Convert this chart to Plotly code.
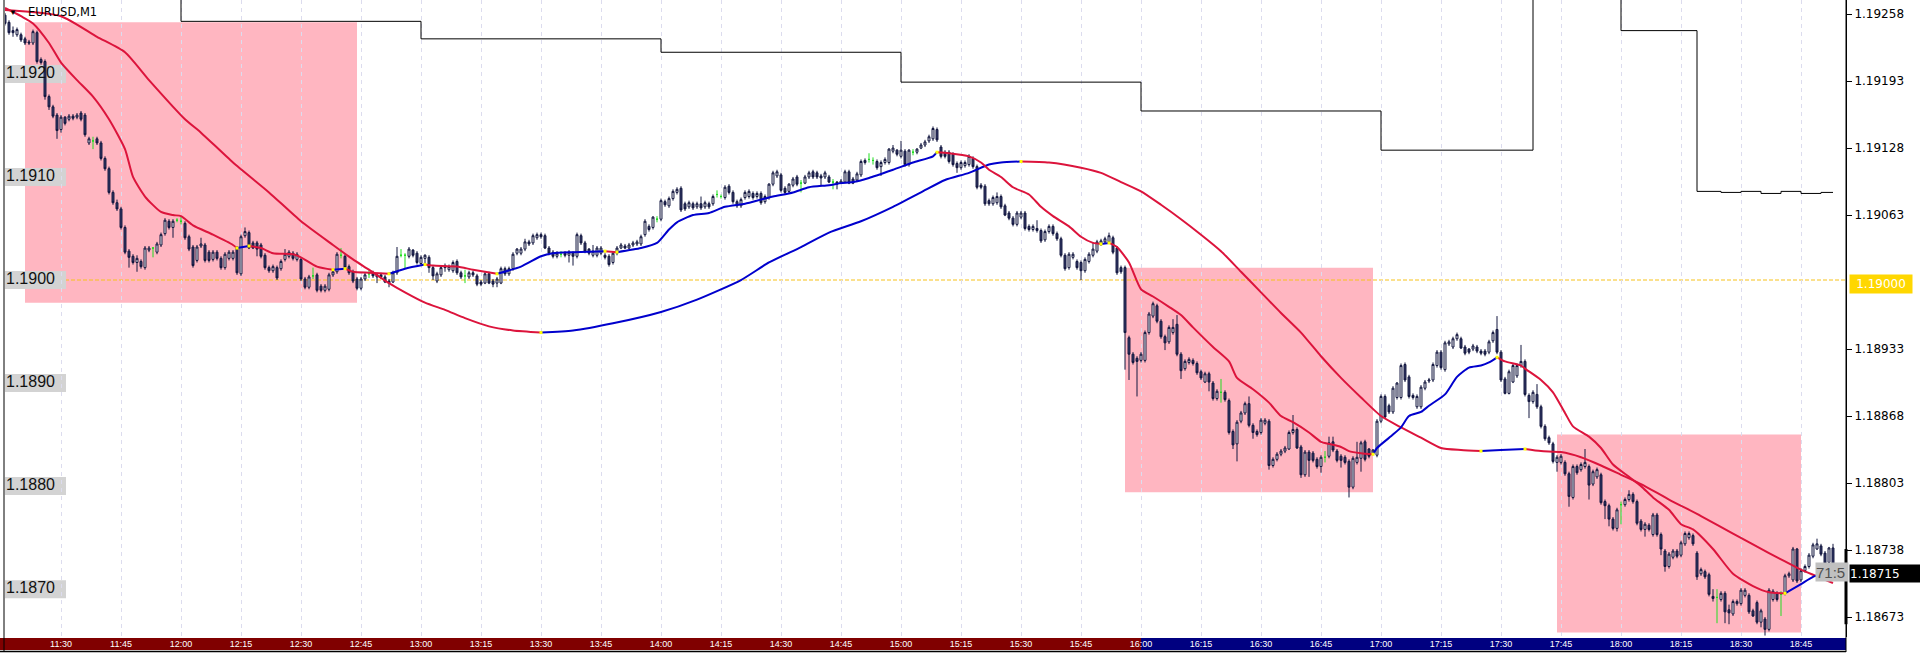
import pandas as pd
import plotly.graph_objects as go

DAY = "2021-02-15"
START = "11:16"
symbol = "EURUSD,M1"

opens = [
1.19257,1.19250,1.19242,1.19238,1.19238,1.19234,1.19231,1.19230,1.19240,1.19214,
1.19212,1.19178,1.19168,1.19160,1.19146,1.19158,1.19156,1.19159,1.19158,1.19162,
1.19160,1.19133,1.19135,1.19137,1.19133,1.19118,1.19108,1.19085,1.19075,1.19069,
1.19051,1.19028,1.19023,1.19017,1.19018,1.19012,1.19029,1.19031,1.19027,1.19034,
1.19045,1.19057,1.19051,1.19058,1.19057,1.19055,1.19042,1.19032,1.19019,1.19033,
1.19034,1.19027,1.19020,1.19027,1.19021,1.19012,1.19021,1.19021,1.19031,1.19006,
1.19043,1.19046,1.19036,1.19036,1.19034,1.19024,1.19012,1.19009,1.19012,1.19011,
1.19020,1.19023,1.19026,1.19020,1.19020,1.19001,1.18993,1.19004,1.19005,1.18994,
1.18990,1.18991,1.19005,1.19008,1.19024,1.19023,1.19013,1.19008,1.19001,1.18992,
1.19001,1.19006,1.19007,1.19003,1.19005,1.19003,1.18999,1.18998,1.19007,1.19024,
1.19024,1.19023,1.19029,1.19026,1.19016,1.19021,1.19022,1.19012,1.18999,1.19005,
1.19014,1.19010,1.19009,1.19018,1.19007,1.19004,1.19003,1.19007,1.19004,1.18998,
1.18997,1.19006,1.18999,1.18997,1.18997,1.19011,1.19006,1.19011,1.19026,1.19026,
1.19030,1.19037,1.19036,1.19041,1.19044,1.19043,1.19031,1.19027,1.19023,1.19025,
1.19026,1.19024,1.19026,1.19023,1.19043,1.19036,1.19030,1.19024,1.19024,1.19026,
1.19024,1.19023,1.19017,1.19026,1.19031,1.19033,1.19031,1.19034,1.19035,1.19035,
1.19044,1.19052,1.19051,1.19059,1.19059,1.19076,1.19072,1.19079,1.19085,1.19089,
1.19074,1.19071,1.19074,1.19071,1.19074,1.19071,1.19074,1.19074,1.19083,1.19081,
1.19080,1.19091,1.19085,1.19076,1.19072,1.19080,1.19081,1.19084,1.19081,1.19084,
1.19076,1.19080,1.19093,1.19101,1.19102,1.19089,1.19086,1.19092,1.19100,1.19094,
1.19094,1.19100,1.19105,1.19104,1.19101,1.19100,1.19100,1.19095,1.19095,1.19094,
1.19095,1.19105,1.19098,1.19097,1.19102,1.19114,1.19117,1.19116,1.19115,1.19110,
1.19114,1.19114,1.19125,1.19126,1.19120,1.19125,1.19112,1.19124,1.19124,1.19128,
1.19131,1.19135,1.19137,1.19146,1.19129,1.19124,1.19124,1.19122,1.19113,1.19109,
1.19111,1.19112,1.19118,1.19110,1.19092,1.19091,1.19077,1.19074,1.19075,1.19081,
1.19072,1.19065,1.19060,1.19054,1.19061,1.19065,1.19052,1.19049,1.19050,1.19048,
1.19039,1.19047,1.19052,1.19045,1.19040,1.19024,1.19012,1.19022,1.19018,1.19017,
1.19009,1.19018,1.19024,1.19028,1.19035,1.19037,1.19037,1.19041,1.19031,1.19012,
1.19012,1.18944,1.18928,1.18924,1.18922,1.18922,1.18949,1.18965,1.18975,1.18960,
1.18945,1.18940,1.18949,1.18957,1.18928,1.18914,1.18920,1.18922,1.18919,1.18911,
1.18901,1.18909,1.18900,1.18885,1.18891,1.18891,1.18883,1.18853,1.18841,1.18863,
1.18871,1.18880,1.18859,1.18853,1.18852,1.18861,1.18863,1.18820,1.18826,1.18831,
1.18834,1.18836,1.18852,1.18855,1.18838,1.18811,1.18833,1.18832,1.18826,1.18819,
1.18828,1.18829,1.18843,1.18834,1.18829,1.18828,1.18824,1.18799,1.18823,1.18827,
1.18843,1.18836,1.18832,1.18830,1.18863,1.18887,1.18878,1.18872,1.18886,1.18886,
1.18918,1.18906,1.18888,1.18877,1.18877,1.18895,1.18902,1.18903,1.18917,1.18930,
1.18913,1.18938,1.18935,1.18943,1.18943,1.18935,1.18933,1.18933,1.18935,1.18931,
1.18931,1.18930,1.18941,1.18952,1.18930,1.18904,1.18890,1.18901,1.18907,1.18917,
1.18921,1.18888,1.18882,1.18889,1.18877,1.18858,1.18847,1.18841,1.18823,1.18823,
1.18823,1.18812,1.18789,1.18819,1.18816,1.18819,1.18819,1.18802,1.18809,1.18811,
1.18785,1.18781,1.18768,1.18759,1.18782,1.18782,1.18787,1.18792,1.18785,1.18766,
1.18758,1.18762,1.18753,1.18772,1.18753,1.18737,1.18722,1.18731,1.18737,1.18733,
1.18744,1.18750,1.18752,1.18735,1.18715,1.18717,1.18714,1.18693,1.18692,1.18690,
1.18696,1.18680,1.18676,1.18686,1.18686,1.18694,1.18694,1.18679,1.18687,1.18668,
1.18671,1.18661,1.18690,1.18696,1.18695,1.18696,1.18713,1.18709,1.18739,1.18709,
1.18718,1.18722,1.18732,1.18739,1.18742,1.18735,1.18726,1.18740]

highs = [
1.19259,1.19252,1.19246,1.19245,1.19240,1.19236,1.19233,1.19243,1.19242,1.19216,
1.19214,1.19180,1.19170,1.19162,1.19160,1.19159,1.19161,1.19161,1.19162,1.19164,
1.19162,1.19139,1.19139,1.19139,1.19135,1.19120,1.19110,1.19087,1.19078,1.19071,
1.19053,1.19030,1.19025,1.19024,1.19020,1.19033,1.19033,1.19032,1.19037,1.19046,
1.19060,1.19059,1.19059,1.19060,1.19062,1.19057,1.19044,1.19034,1.19034,1.19041,
1.19036,1.19029,1.19029,1.19029,1.19023,1.19027,1.19029,1.19029,1.19033,1.19044,
1.19051,1.19048,1.19038,1.19038,1.19036,1.19026,1.19014,1.19015,1.19014,1.19020,
1.19030,1.19029,1.19028,1.19027,1.19022,1.19003,1.19005,1.19012,1.19007,1.18996,
1.18996,1.19007,1.19010,1.19027,1.19031,1.19025,1.19015,1.19010,1.19003,1.19003,
1.19007,1.19010,1.19009,1.19007,1.19007,1.19005,1.19001,1.19009,1.19032,1.19030,
1.19026,1.19032,1.19030,1.19028,1.19024,1.19025,1.19024,1.19014,1.19008,1.19014,
1.19016,1.19015,1.19019,1.19020,1.19009,1.19010,1.19009,1.19009,1.19006,1.19000,
1.19008,1.19008,1.19001,1.19003,1.19013,1.19013,1.19013,1.19027,1.19031,1.19032,
1.19040,1.19039,1.19045,1.19046,1.19046,1.19045,1.19033,1.19029,1.19028,1.19028,
1.19028,1.19029,1.19028,1.19046,1.19045,1.19038,1.19031,1.19034,1.19033,1.19033,
1.19026,1.19025,1.19028,1.19033,1.19036,1.19035,1.19036,1.19038,1.19039,1.19044,
1.19059,1.19054,1.19062,1.19062,1.19079,1.19078,1.19081,1.19088,1.19090,1.19091,
1.19076,1.19077,1.19076,1.19076,1.19081,1.19077,1.19076,1.19083,1.19087,1.19083,
1.19092,1.19093,1.19087,1.19078,1.19080,1.19087,1.19088,1.19086,1.19086,1.19086,
1.19083,1.19094,1.19106,1.19107,1.19104,1.19091,1.19094,1.19100,1.19102,1.19097,
1.19102,1.19106,1.19107,1.19106,1.19103,1.19106,1.19102,1.19098,1.19096,1.19098,
1.19107,1.19107,1.19100,1.19105,1.19117,1.19118,1.19123,1.19119,1.19117,1.19116,
1.19119,1.19128,1.19131,1.19127,1.19135,1.19127,1.19127,1.19127,1.19128,1.19133,
1.19136,1.19141,1.19149,1.19148,1.19131,1.19126,1.19126,1.19124,1.19115,1.19116,
1.19116,1.19122,1.19120,1.19112,1.19094,1.19093,1.19079,1.19082,1.19085,1.19083,
1.19074,1.19067,1.19062,1.19067,1.19067,1.19067,1.19054,1.19054,1.19058,1.19050,
1.19049,1.19054,1.19054,1.19047,1.19042,1.19026,1.19027,1.19027,1.19020,1.19019,
1.19022,1.19027,1.19036,1.19039,1.19040,1.19042,1.19046,1.19043,1.19033,1.19014,
1.19014,1.18946,1.18930,1.18926,1.18930,1.18951,1.18969,1.18979,1.18977,1.18962,
1.18947,1.18956,1.18962,1.18966,1.18930,1.18923,1.18925,1.18924,1.18921,1.18913,
1.18911,1.18911,1.18902,1.18894,1.18904,1.18893,1.18885,1.18855,1.18864,1.18873,
1.18882,1.18887,1.18861,1.18855,1.18866,1.18866,1.18865,1.18828,1.18833,1.18836,
1.18839,1.18854,1.18869,1.18857,1.18840,1.18835,1.18835,1.18834,1.18828,1.18830,
1.18834,1.18848,1.18848,1.18836,1.18831,1.18830,1.18826,1.18829,1.18843,1.18844,
1.18845,1.18837,1.18836,1.18865,1.18889,1.18889,1.18880,1.18897,1.18901,1.18919,
1.18920,1.18908,1.18890,1.18889,1.18898,1.18903,1.18905,1.18920,1.18932,1.18932,
1.18941,1.18942,1.18945,1.18949,1.18945,1.18937,1.18934,1.18938,1.18937,1.18933,
1.18933,1.18942,1.18951,1.18965,1.18932,1.18906,1.18913,1.18919,1.18919,1.18937,
1.18923,1.18890,1.18893,1.18899,1.18879,1.18860,1.18849,1.18843,1.18830,1.18831,
1.18825,1.18814,1.18821,1.18821,1.18823,1.18836,1.18821,1.18816,1.18818,1.18813,
1.18787,1.18783,1.18770,1.18779,1.18785,1.18789,1.18796,1.18794,1.18787,1.18768,
1.18765,1.18764,1.18774,1.18774,1.18755,1.18739,1.18736,1.18739,1.18739,1.18747,
1.18756,1.18756,1.18754,1.18737,1.18721,1.18719,1.18716,1.18700,1.18700,1.18698,
1.18698,1.18685,1.18690,1.18690,1.18701,1.18701,1.18696,1.18681,1.18689,1.18681,
1.18673,1.18701,1.18700,1.18698,1.18698,1.18715,1.18717,1.18741,1.18740,1.18720,
1.18724,1.18735,1.18745,1.18749,1.18744,1.18737,1.18741,1.18744]

lows = [
1.19247,1.19238,1.19236,1.19236,1.19231,1.19228,1.19228,1.19228,1.19210,1.19209,
1.19175,1.19165,1.19157,1.19137,1.19143,1.19150,1.19154,1.19155,1.19156,1.19154,
1.19139,1.19131,1.19127,1.19131,1.19116,1.19106,1.19083,1.19073,1.19067,1.19049,
1.19025,1.19012,1.19015,1.19008,1.19011,1.19010,1.19027,1.19022,1.19025,1.19032,
1.19043,1.19049,1.19041,1.19056,1.19054,1.19039,1.19028,1.19012,1.19017,1.19031,
1.19017,1.19017,1.19018,1.19019,1.19010,1.19010,1.19019,1.19019,1.19005,1.19004,
1.19041,1.19030,1.19030,1.19023,1.19021,1.19010,1.19007,1.19007,1.19000,1.19009,
1.19018,1.19021,1.19019,1.19018,1.18999,1.18991,1.18991,1.19001,1.18988,1.18988,
1.18988,1.18989,1.19003,1.19006,1.19021,1.19010,1.19005,1.18997,1.18990,1.18990,
1.18999,1.19002,1.19002,1.18997,1.19001,1.18997,1.18993,1.18997,1.19005,1.19022,
1.19011,1.19021,1.19022,1.19015,1.19014,1.19015,1.19007,1.19000,1.18997,1.19003,
1.19008,1.19008,1.19007,1.19005,1.19001,1.18997,1.19001,1.19003,1.18994,1.18994,
1.18996,1.18996,1.18993,1.18993,1.18996,1.19004,1.19004,1.19009,1.19024,1.19024,
1.19028,1.19033,1.19034,1.19039,1.19040,1.19030,1.19024,1.19021,1.19021,1.19022,
1.19022,1.19017,1.19014,1.19021,1.19034,1.19026,1.19024,1.19022,1.19022,1.19024,
1.19020,1.19013,1.19015,1.19024,1.19030,1.19030,1.19030,1.19032,1.19033,1.19033,
1.19042,1.19047,1.19049,1.19056,1.19057,1.19071,1.19070,1.19077,1.19083,1.19066,
1.19067,1.19069,1.19068,1.19069,1.19068,1.19069,1.19069,1.19072,1.19080,1.19079,
1.19078,1.19083,1.19074,1.19070,1.19070,1.19078,1.19079,1.19078,1.19079,1.19073,
1.19074,1.19078,1.19091,1.19099,1.19085,1.19083,1.19084,1.19090,1.19091,1.19085,
1.19093,1.19098,1.19098,1.19098,1.19091,1.19098,1.19094,1.19088,1.19088,1.19093,
1.19094,1.19093,1.19093,1.19095,1.19100,1.19112,1.19114,1.19112,1.19107,1.19101,
1.19112,1.19112,1.19123,1.19120,1.19118,1.19110,1.19110,1.19121,1.19122,1.19127,
1.19129,1.19133,1.19135,1.19134,1.19118,1.19118,1.19113,1.19110,1.19104,1.19107,
1.19109,1.19110,1.19108,1.19088,1.19088,1.19072,1.19072,1.19072,1.19073,1.19069,
1.19062,1.19058,1.19052,1.19052,1.19059,1.19048,1.19047,1.19047,1.19046,1.19036,
1.19037,1.19045,1.19043,1.19038,1.19022,1.19009,1.19010,1.19020,1.19010,1.19000,
1.19007,1.19016,1.19022,1.19026,1.19033,1.19035,1.19035,1.19025,1.19005,1.19006,
1.18913,1.18903,1.18918,1.18887,1.18920,1.18920,1.18947,1.18963,1.18958,1.18943,
1.18932,1.18938,1.18947,1.18926,1.18904,1.18912,1.18918,1.18917,1.18908,1.18903,
1.18900,1.18892,1.18883,1.18883,1.18881,1.18882,1.18850,1.18836,1.18824,1.18861,
1.18869,1.18857,1.18846,1.18848,1.18850,1.18859,1.18816,1.18818,1.18824,1.18829,
1.18832,1.18835,1.18850,1.18836,1.18808,1.18809,1.18809,1.18823,1.18817,1.18813,
1.18823,1.18827,1.18833,1.18823,1.18818,1.18821,1.18789,1.18797,1.18821,1.18814,
1.18824,1.18827,1.18830,1.18828,1.18861,1.18866,1.18870,1.18870,1.18884,1.18884,
1.18901,1.18885,1.18884,1.18875,1.18875,1.18893,1.18900,1.18901,1.18915,1.18913,
1.18911,1.18936,1.18933,1.18941,1.18933,1.18927,1.18928,1.18931,1.18929,1.18927,
1.18926,1.18928,1.18939,1.18928,1.18901,1.18889,1.18889,1.18900,1.18905,1.18915,
1.18887,1.18866,1.18880,1.18875,1.18856,1.18844,1.18840,1.18822,1.18814,1.18821,
1.18810,1.18780,1.18787,1.18811,1.18814,1.18817,1.18787,1.18800,1.18807,1.18782,
1.18768,1.18761,1.18757,1.18756,1.18763,1.18780,1.18785,1.18783,1.18762,1.18756,
1.18751,1.18756,1.18751,1.18751,1.18733,1.18717,1.18720,1.18729,1.18730,1.18731,
1.18742,1.18748,1.18742,1.18709,1.18713,1.18710,1.18693,1.18688,1.18667,1.18688,
1.18667,1.18666,1.18674,1.18684,1.18684,1.18692,1.18676,1.18673,1.18666,1.18663,
1.18655,1.18659,1.18688,1.18688,1.18674,1.18694,1.18711,1.18707,1.18706,1.18707,
1.18716,1.18720,1.18730,1.18738,1.18732,1.18723,1.18724,1.18713]

closes = [
1.19249,1.19240,1.19240,1.19243,1.19233,1.19230,1.19230,1.19241,1.19212,1.19211,
1.19178,1.19168,1.19159,1.19145,1.19158,1.19152,1.19159,1.19157,1.19160,1.19156,
1.19141,1.19137,1.19135,1.19133,1.19118,1.19108,1.19085,1.19075,1.19069,1.19051,
1.19027,1.19022,1.19017,1.19021,1.19013,1.19031,1.19031,1.19031,1.19035,1.19044,
1.19058,1.19051,1.19057,1.19058,1.19057,1.19041,1.19030,1.19014,1.19032,1.19035,
1.19019,1.19019,1.19027,1.19021,1.19012,1.19025,1.19027,1.19027,1.19007,1.19042,
1.19047,1.19031,1.19031,1.19030,1.19023,1.19012,1.19009,1.19013,1.19002,1.19018,
1.19025,1.19027,1.19021,1.19025,1.19001,1.18993,1.19003,1.19004,1.18990,1.18990,
1.18994,1.19005,1.19008,1.19025,1.19024,1.19012,1.19007,1.18999,1.18992,1.19001,
1.19005,1.19006,1.19004,1.19005,1.19003,1.18998,1.18997,1.19007,1.19023,1.19024,
1.19024,1.19030,1.19024,1.19017,1.19022,1.19024,1.19012,1.19004,1.19006,1.19012,
1.19012,1.19013,1.19017,1.19007,1.19003,1.19004,1.19007,1.19005,1.18996,1.18996,
1.19006,1.18997,1.18996,1.19001,1.19011,1.19006,1.19011,1.19025,1.19030,1.19030,
1.19037,1.19035,1.19043,1.19044,1.19042,1.19031,1.19026,1.19023,1.19026,1.19025,
1.19024,1.19027,1.19023,1.19044,1.19036,1.19028,1.19026,1.19028,1.19031,1.19031,
1.19022,1.19015,1.19026,1.19031,1.19034,1.19031,1.19034,1.19036,1.19037,1.19042,
1.19057,1.19049,1.19061,1.19059,1.19077,1.19073,1.19079,1.19086,1.19088,1.19068,
1.19069,1.19075,1.19070,1.19074,1.19070,1.19075,1.19071,1.19081,1.19083,1.19081,
1.19090,1.19085,1.19076,1.19072,1.19078,1.19085,1.19086,1.19080,1.19084,1.19075,
1.19081,1.19093,1.19104,1.19105,1.19087,1.19085,1.19093,1.19098,1.19093,1.19094,
1.19100,1.19104,1.19100,1.19100,1.19099,1.19104,1.19095,1.19095,1.19093,1.19096,
1.19105,1.19094,1.19094,1.19103,1.19115,1.19116,1.19117,1.19116,1.19109,1.19114,
1.19117,1.19127,1.19128,1.19122,1.19126,1.19112,1.19126,1.19124,1.19127,1.19131,
1.19134,1.19139,1.19147,1.19136,1.19120,1.19120,1.19115,1.19112,1.19109,1.19114,
1.19114,1.19120,1.19110,1.19090,1.19090,1.19074,1.19074,1.19080,1.19081,1.19071,
1.19063,1.19060,1.19054,1.19065,1.19065,1.19050,1.19049,1.19052,1.19048,1.19038,
1.19047,1.19052,1.19045,1.19040,1.19024,1.19011,1.19025,1.19025,1.19012,1.19009,
1.19020,1.19025,1.19030,1.19037,1.19038,1.19040,1.19043,1.19027,1.19007,1.19008,
1.18949,1.18928,1.18920,1.18921,1.18928,1.18949,1.18967,1.18977,1.18960,1.18945,
1.18939,1.18954,1.18954,1.18928,1.18912,1.18921,1.18923,1.18919,1.18910,1.18905,
1.18909,1.18901,1.18885,1.18892,1.18891,1.18884,1.18852,1.18840,1.18862,1.18871,
1.18880,1.18859,1.18852,1.18850,1.18864,1.18864,1.18820,1.18826,1.18831,1.18834,
1.18837,1.18852,1.18855,1.18837,1.18811,1.18833,1.18825,1.18825,1.18819,1.18828,
1.18828,1.18842,1.18835,1.18825,1.18825,1.18823,1.18799,1.18827,1.18828,1.18842,
1.18826,1.18829,1.18835,1.18863,1.18887,1.18867,1.18872,1.18895,1.18900,1.18917,
1.18903,1.18887,1.18886,1.18887,1.18896,1.18901,1.18903,1.18918,1.18930,1.18915,
1.18939,1.18940,1.18943,1.18947,1.18934,1.18929,1.18930,1.18936,1.18931,1.18929,
1.18928,1.18940,1.18949,1.18930,1.18903,1.18890,1.18911,1.18917,1.18917,1.18921,
1.18889,1.18882,1.18891,1.18877,1.18858,1.18846,1.18842,1.18824,1.18828,1.18829,
1.18812,1.18790,1.18819,1.18813,1.18821,1.18823,1.18801,1.18814,1.18816,1.18784,
1.18781,1.18768,1.18759,1.18777,1.18782,1.18787,1.18792,1.18785,1.18764,1.18758,
1.18763,1.18758,1.18772,1.18753,1.18739,1.18722,1.18734,1.18737,1.18732,1.18745,
1.18754,1.18754,1.18744,1.18712,1.18719,1.18712,1.18695,1.18691,1.18692,1.18696,
1.18678,1.18677,1.18688,1.18688,1.18699,1.18699,1.18678,1.18674,1.18668,1.18679,
1.18661,1.18699,1.18698,1.18690,1.18695,1.18713,1.18715,1.18739,1.18708,1.18718,
1.18722,1.18733,1.18743,1.18744,1.18734,1.18725,1.18740,1.18715]

slow_times = ["11:16","11:30","11:39","11:46","11:52","12:01","12:05","12:13","12:22","12:30",
              "12:38","12:43","12:47","12:52","12:56","13:01","13:06","13:11","13:17","13:23",
              "13:30","13:38","13:48",
              "14:00","14:09","14:20","14:27","14:35","14:42","14:50","14:58","15:05","15:11",
              "15:17","15:22","15:25","15:30","15:37","15:45","15:50","15:55","16:00","16:05",
              "16:10","16:15","16:20","16:25","16:30","16:35","16:40","16:45","16:50","16:55",
              "17:00","17:05","17:10","17:15","17:20","17:25","17:30","17:36","17:40","17:45",
              "17:50","17:55","18:00","18:05","18:12","18:20","18:28","18:37","18:41","18:45",
              "18:48","18:53"]
slow_vals = [1.19262,1.19256,1.19236,1.19221,1.19194,1.19156,1.19143,1.19114,1.19085,1.19057,
             1.19034,1.19020,1.19010,1.18997,1.18988,1.18978,1.18971,1.18963,1.18955,1.18951,
             1.18949,1.18951,1.18958,
             1.18969,1.18981,1.19000,1.19017,1.19032,1.19046,1.19057,1.19071,1.19085,1.19097,
             1.19104,1.19112,1.19114,1.19115,1.19114,1.19109,1.19104,1.19095,1.19086,1.19073,
             1.19059,1.19044,1.19028,1.19008,1.18988,1.18968,1.18949,1.18926,1.18905,1.18886,
             1.18868,1.18857,1.18847,1.18837,1.18835,1.18834,1.18835,1.18836,1.18834,1.18833,
             1.18828,1.18820,1.18811,1.18802,1.18787,1.18771,1.18754,1.18735,1.18727,1.18719,
             1.18714,1.18706]

fast_times = ["11:16","11:20","11:23","11:27","11:30","11:34","11:38","11:42","11:46","11:48",
              "11:51","11:55","11:58","12:00","12:03","12:08","12:13","12:14","12:17","12:20",
              "12:23","12:28","12:30","12:34","12:38","12:41","12:43","12:47","12:52","12:56",
              "13:01","13:03","13:09","13:13","13:19","13:25","13:30","13:33","13:38","13:46",
              "13:49","13:55","13:59","14:02","14:04","14:08","14:12","14:16","14:21","14:25",
              "14:28","14:33","14:37","14:42","14:45","14:48","14:52","14:58","15:03","15:08",
              "15:09","15:12","15:17","15:20","15:22","15:25","15:28","15:32","15:35","15:38",
              "15:42","15:45","15:48","15:50","15:52","15:54","15:57","16:00","16:03","16:07",
              "16:10","16:13","16:18","16:22","16:24","16:28","16:32","16:35","16:38","16:42",
              "16:45","16:47","16:50","16:52","16:55","16:58","16:59","17:03","17:05","17:07",
              "17:10","17:12","17:16","17:19","17:22","17:25","17:27","17:29","17:31","17:35",
              "17:36","17:40","17:43","17:46","17:48","17:52","17:55","17:58","18:02","18:05",
              "18:08","18:12","18:15","18:18","18:23","18:28","18:33","18:37","18:41","18:45",
              "18:48","18:53"]
fast_vals = [1.19264,1.19256,1.19249,1.19230,1.19211,1.19194,1.19178,1.19156,1.19127,1.19100,
             1.19081,1.19066,1.19063,1.19062,1.19053,1.19044,1.19034,1.19031,1.19033,1.19031,
             1.19026,1.19025,1.19022,1.19013,1.19010,1.19011,1.19008,1.19007,1.19006,1.19011,
             1.19015,1.19014,1.19013,1.19010,1.19006,1.19013,1.19023,1.19026,1.19027,1.19028,
             1.19027,1.19031,1.19036,1.19049,1.19056,1.19063,1.19065,1.19071,1.19074,1.19078,
             1.19081,1.19085,1.19090,1.19092,1.19094,1.19095,1.19099,1.19107,1.19114,1.19120,
             1.19124,1.19123,1.19120,1.19114,1.19107,1.19100,1.19090,1.19083,1.19071,1.19062,
             1.19052,1.19042,1.19036,1.19035,1.19036,1.19032,1.19017,1.18991,1.18984,1.18974,
             1.18966,1.18954,1.18935,1.18921,1.18905,1.18894,1.18881,1.18868,1.18862,1.18852,
             1.18843,1.18841,1.18838,1.18834,1.18832,1.18831,1.18837,1.18850,1.18857,1.18868,
             1.18872,1.18878,1.18889,1.18906,1.18915,1.18917,1.18920,1.18925,1.18921,1.18917,
             1.18914,1.18903,1.18891,1.18871,1.18858,1.18848,1.18837,1.18821,1.18809,1.18800,
             1.18789,1.18777,1.18763,1.18758,1.18739,1.18715,1.18703,1.18697,1.18696,1.18705,
             1.18712,1.18719]

step_times = ["11:16","12:00","13:00","14:00","15:00","16:00","17:00","17:38","18:00","18:19",
              "18:25","18:30","18:35","18:40","18:45","18:50","18:53"]
step_vals = [1.19300,1.19251,1.19234,1.19221,1.19192,1.19164,1.19126,1.19300,1.19242,1.19086,
             1.19085,1.19086,1.19084,1.19086,1.19084,1.19085,1.19085]

tick_times = ["11:30","11:45","12:00","12:15","12:30","12:45","13:00","13:15","13:30","13:45",
              "14:00","14:15","14:30","14:45","15:00","15:15","15:30","15:45","16:00","16:15",
              "16:30","16:45","17:00","17:15","17:30","17:45","18:00","18:15","18:30","18:45"]
right_ticks = [1.19258,1.19193,1.19128,1.19063,1.18933,1.18868,1.18803,1.18738,1.18673]
left_levels = [1.1920,1.1910,1.1900,1.1890,1.1880,1.1870]
left_texts = ["1.1920","1.1910","1.1900","1.1890","1.1880","1.1870"]
zone_start = ["11:21","15:56","17:44"]
zone_end = ["12:44","16:58","18:45"]
zone_low = [1.18978,1.18794,1.18658]
zone_high = [1.19250,1.19012,1.18850]
level_line = 1.19000
current_price = 1.18715
range_bar = [1.18666,1.18739]
session_split = "16:00"
countdown = "71:5"

# ---------------- geometry / style ----------------
W, H = 1920, 654
ML, MR, MT, MB = 5, 74, 0, 17
PW, PH = W - ML - MR, H - MT - MB
MIN_PX = 4.0
Y_LO, Y_HI = 1.186536, 1.192717
NAVY = "#12163e"
BEAR = "#343a68"
RED = "#dc143c"
BLUE = "#0000cd"


def T(hm):
    return pd.Timestamp(f"{DAY} {hm}")


x_start = T(START)
x_end = x_start + pd.Timedelta(minutes=PW / MIN_PX)
times = [x_start + pd.Timedelta(minutes=k) for k in range(len(opens))]


def pxx(px):
    return (px - ML) / PW


def pxy(py):
    return (MT + PH - py) / PH


def px_time(px):
    return x_start + pd.Timedelta(minutes=(px - ML) / MIN_PX)


PPP = (Y_HI - Y_LO) / PH  # price per pixel

fig = go.Figure()

# left price labels text (under candles)
fig.add_trace(go.Scatter(
    x=[px_time(6)] * len(left_levels), y=left_levels, mode="text", text=left_texts,
    textposition="middle right", hoverinfo="skip", showlegend=False,
    textfont=dict(family="Liberation Sans, Arial", size=16, color="#111111")))

norm = [k for k in range(len(opens)) if opens[k] != closes[k]]
doji = [k for k in range(len(opens)) if opens[k] == closes[k]]


def sel(a, idx):
    return [a[k] for k in idx]


fig.add_trace(go.Candlestick(
    x=sel(times, norm), open=sel(opens, norm), high=sel(highs, norm),
    low=sel(lows, norm), close=sel(closes, norm),
    increasing=dict(line=dict(color=NAVY, width=1), fillcolor="#ffffff"),
    decreasing=dict(line=dict(color=NAVY, width=1), fillcolor=BEAR),
    whiskerwidth=0, hoverinfo="skip", showlegend=False))
fig.add_trace(go.Candlestick(
    x=sel(times, doji), open=sel(opens, doji), high=sel(highs, doji),
    low=sel(lows, doji), close=sel(closes, doji),
    increasing=dict(line=dict(color="#22dd22", width=1), fillcolor="#22dd22"),
    decreasing=dict(line=dict(color="#22dd22", width=1), fillcolor="#22dd22"),
    whiskerwidth=0, hoverinfo="skip", showlegend=False))

# step indicator line
fig.add_trace(go.Scatter(
    x=[T(t) for t in step_times], y=step_vals, mode="lines",
    line=dict(color="#000000", width=1, shape="hv"), hoverinfo="skip", showlegend=False))


def colored_line(tlist, vals):
    xs = [T(t) for t in tlist]
    segc = []
    prev = RED
    for k in range(len(vals) - 1):
        d = vals[k + 1] - vals[k]
        c = BLUE if d > 0 else (RED if d < 0 else prev)
        segc.append(c)
        prev = c
    turns_x, turns_y = [], []
    s = 0
    for k in range(1, len(segc) + 1):
        if k == len(segc) or segc[k] != segc[s]:
            fig.add_trace(go.Scatter(
                x=xs[s:k + 1], y=vals[s:k + 1], mode="lines",
                line=dict(color=segc[s], width=2, shape="spline", smoothing=0.6),
                hoverinfo="skip", showlegend=False))
            if k < len(segc):
                turns_x.append(xs[k])
                turns_y.append(vals[k])
            s = k
    return turns_x, turns_y


tx1, ty1 = colored_line(slow_times, slow_vals)
tx2, ty2 = colored_line(fast_times, fast_vals)
fig.add_trace(go.Scatter(
    x=tx1 + tx2, y=ty1 + ty2, mode="markers",
    marker=dict(symbol="square", size=3, color="#ffff00"),
    hoverinfo="skip", showlegend=False))

shapes = []
for a, b, lo, hi in zip(zone_start, zone_end, zone_low, zone_high):
    shapes.append(dict(type="rect", xref="x", yref="y", x0=T(a), x1=T(b), y0=lo, y1=hi,
                       fillcolor="#ffb6c1", line=dict(width=0), layer="below"))
shapes.append(dict(type="line", xref="x", yref="y", x0=x_start, x1=x_end,
                   y0=level_line, y1=level_line, layer="below",
                   line=dict(color="#f7c21a", width=1, dash="4px,2px")))
for lv in left_levels:
    shapes.append(dict(type="rect", xref="x", yref="y", x0=px_time(4), x1=px_time(66),
                       y0=lv - 9 * PPP, y1=lv + 9 * PPP, fillcolor="#d3d3d3",
                       line=dict(width=0), layer="below"))
split_px = ML + (T(session_split) - x_start).total_seconds() / 60 * MIN_PX
shapes.append(dict(type="rect", xref="paper", yref="paper", x0=pxx(0), x1=pxx(split_px),
                   y0=pxy(650), y1=pxy(638), fillcolor="#800000", line=dict(width=0),
                   layer="below"))
shapes.append(dict(type="rect", xref="paper", yref="paper", x0=pxx(split_px), x1=1,
                   y0=pxy(650), y1=pxy(638), fillcolor="#000080", line=dict(width=0),
                   layer="below"))
shapes.append(dict(type="line", xref="paper", yref="paper", x0=pxx(0), x1=1,
                   y0=pxy(651.5), y1=pxy(651.5), line=dict(color="#000", width=1.5)))
shapes.append(dict(type="line", xref="paper", yref="paper", x0=pxx(4), x1=pxx(4),
                   y0=pxy(0), y1=pxy(652), line=dict(color="#000", width=1)))
shapes.append(dict(type="line", xref="paper", yref="paper", x0=1, x1=1,
                   y0=pxy(0), y1=pxy(652), line=dict(color="#000", width=1)))
shapes.append(dict(type="line", xref="paper", yref="paper", x0=1, x1=1,
                   y0=pxy(MT + (Y_HI - range_bar[1]) / PPP),
                   y1=pxy(MT + (Y_HI - range_bar[0]) / PPP),
                   line=dict(color="#000", width=3)))

annotations = [
    dict(text="▼", xref="paper", yref="paper", x=pxx(13), y=pxy(11), showarrow=False,
         font=dict(size=8, color="#000"), xanchor="center", yanchor="middle"),
    dict(text=symbol, xref="paper", yref="paper", x=pxx(26), y=pxy(12), showarrow=False,
         font=dict(family="DejaVu Sans", size=11.5, color="#000"), xanchor="left",
         yanchor="middle"),
    dict(text=f"{level_line:.5f}", xref="paper", yref="y", x=1, y=level_line, yshift=-4,
         xshift=3, xanchor="left", yanchor="middle", showarrow=False, width=62, height=18,
         bgcolor="#ffd700", borderpad=0,
         font=dict(family="DejaVu Sans", size=12, color="#ffffff")),
    dict(text=countdown, xref="paper", yref="y", x=pxx(1815), y=current_price, yshift=2,
         xanchor="left", yanchor="middle", showarrow=False, width=32, height=18,
         bgcolor="#c0c0c0", borderpad=0, align="left",
         font=dict(family="Liberation Sans", size=15, color="#505050")),
    dict(text=f"{current_price:.5f}", xref="paper", yref="y", x=1, y=current_price,
         xshift=3, xanchor="left", yanchor="middle", showarrow=False, width=72, height=17,
         bgcolor="#000000", borderpad=0, align="left",
         font=dict(family="DejaVu Sans", size=12, color="#ffffff")),
]

fig.update_layout(
    width=W, height=H, autosize=False,
    margin=dict(l=ML, r=MR, t=MT, b=MB, pad=0),
    paper_bgcolor="#ffffff", plot_bgcolor="rgba(0,0,0,0)",
    showlegend=False, shapes=shapes, annotations=annotations,
    xaxis=dict(type="date", range=[x_start, x_end], rangeslider=dict(visible=False),
               tickvals=[T(t) for t in tick_times], ticktext=tick_times,
               showgrid=True, gridcolor="#dcdcee", griddash="4px,4px", gridwidth=1,
               ticks="", showline=False, zeroline=False, fixedrange=True,
               tickfont=dict(family="Liberation Sans Narrow, Liberation Sans", size=9,
                             color="#ffffff")),
    yaxis=dict(side="right", range=[Y_LO, Y_HI], tickvals=right_ticks,
               ticktext=[f"{v:.5f}" for v in right_ticks], showgrid=False,
               zeroline=False, showline=True, linecolor="#000", linewidth=1,
               ticks="outside", ticklen=5, tickcolor="#000", fixedrange=True,
               tickfont=dict(family="DejaVu Sans", size=12, color="#000")),
)

fig.write_html("out.html", config={"displayModeBar": False, "staticPlot": True},
               post_script="document.body.style.margin='0px';")
